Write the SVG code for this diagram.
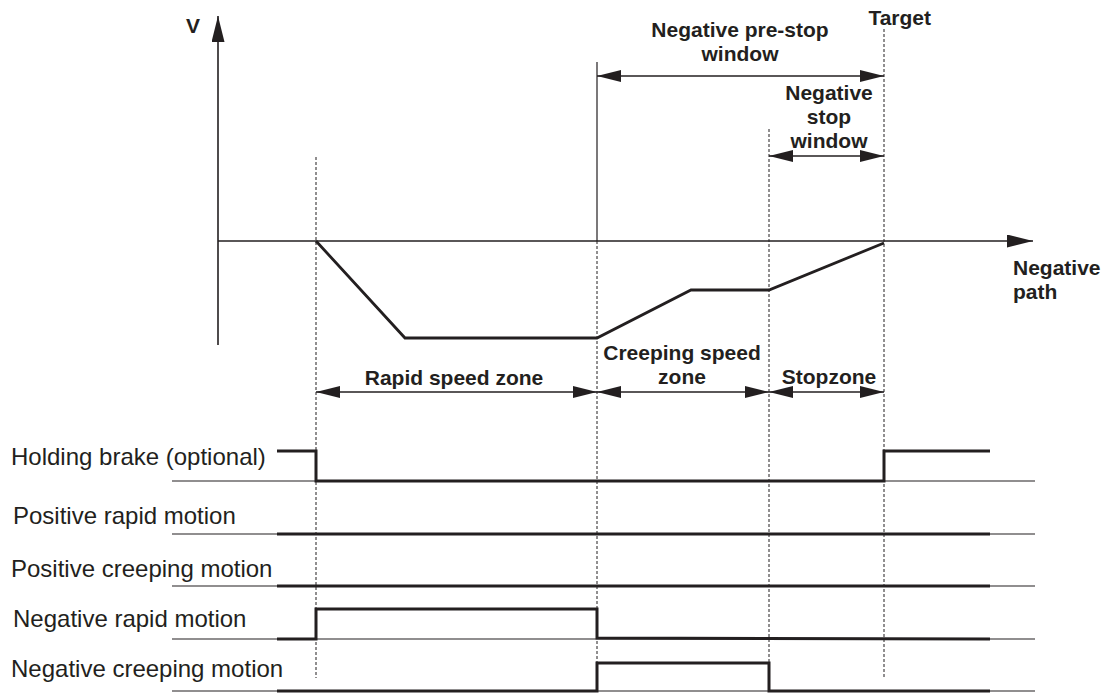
<svg xmlns="http://www.w3.org/2000/svg" width="1115" height="693" viewBox="0 0 1115 693">
<style>
.bold{font-family:"Liberation Sans",Arial,sans-serif;font-weight:bold;font-size:21px;fill:#231f20}
.reg{font-family:"Liberation Sans",Arial,sans-serif;font-size:24px;fill:#231f20}
.axis{stroke:#231f20;stroke-width:1.6;fill:none}
.dash{stroke:#231f20;stroke-width:1;stroke-dasharray:3 2;fill:none}
.dim{stroke:#231f20;stroke-width:1.4;fill:none;marker-start:url(#ah);marker-end:url(#ah)}
.thin{stroke:#231f20;stroke-width:1.2;fill:none}
.sig{stroke:#231f20;stroke-width:3;fill:none;stroke-linejoin:miter}
.curve{stroke:#231f20;stroke-width:2.8;fill:none;stroke-linejoin:miter}
</style>
<defs>
<marker id="ah" viewBox="0 0 24 12" refX="24" refY="6" markerWidth="24" markerHeight="12" markerUnits="userSpaceOnUse" orient="auto-start-reverse">
<path d="M0,0 L24,6 L0,12 z" fill="#231f20"/>
</marker>
<marker id="ax" viewBox="0 0 26 13" refX="26" refY="6.5" markerWidth="26" markerHeight="13" markerUnits="userSpaceOnUse" orient="auto">
<path d="M0,0 L26,6.5 L0,13 z" fill="#231f20"/>
</marker>
</defs>
<rect width="1115" height="693" fill="#fff"/>

<g id="guides">
<line class="dash" x1="316" y1="157" x2="316" y2="678"/>
<line class="axis" x1="597" y1="62" x2="597" y2="241" style="stroke-width:1.2"/>
<line class="dash" x1="597" y1="241" x2="597" y2="678"/>
<line class="dash" x1="769" y1="129" x2="769" y2="678"/>
<line class="dash" x1="884" y1="29" x2="884" y2="678"/>
</g>

<g id="axes">
<line class="axis" x1="218" y1="345" x2="218" y2="16" marker-end="url(#ax)"/>
<line class="axis" x1="218" y1="241" x2="1033" y2="241" marker-end="url(#ax)"/>
<text class="bold" x="186" y="33">V</text>
<text class="bold" x="1013" y="275">Negative</text>
<text class="bold" x="1013" y="299">path</text>
</g>

<g id="speed-curve">
<polyline class="curve" points="316,241 405,338 597,338 691,290 769,290 884,243"/>
</g>

<g id="connectors">
<line class="dim" x1="597" y1="76" x2="884" y2="76"/>
<line class="dim" x1="769" y1="156" x2="884" y2="156"/>
<line class="dim" x1="316" y1="392" x2="597" y2="392"/>
<line class="dim" x1="597" y1="392" x2="769" y2="392"/>
<line class="dim" x1="769" y1="392" x2="884" y2="392"/>
</g>

<g id="window-labels">
<text class="bold" x="931" y="25" text-anchor="end">Target</text>
<text class="bold" x="740" y="37" text-anchor="middle">Negative pre-stop</text>
<text class="bold" x="740" y="61" text-anchor="middle">window</text>
<text class="bold" x="829" y="100" text-anchor="middle">Negative</text>
<text class="bold" x="829" y="124" text-anchor="middle">stop</text>
<text class="bold" x="829" y="148" text-anchor="middle">window</text>
</g>

<g id="zone-labels">
<text class="bold" x="454" y="385" text-anchor="middle">Rapid speed zone</text>
<text class="bold" x="682" y="360" text-anchor="middle">Creeping speed</text>
<text class="bold" x="682" y="384" text-anchor="middle">zone</text>
<text class="bold" x="829" y="384" text-anchor="middle">Stopzone</text>
</g>

<g id="holding-brake">
<text class="reg" x="11" y="465">Holding brake (optional)</text>
<line class="thin" x1="172" y1="481" x2="1035" y2="481"/>
<polyline class="sig" points="277,451 316,451 316,481 884,481 884,451 990,451"/>
</g>

<g id="positive-rapid">
<text class="reg" x="13" y="524">Positive rapid motion</text>
<line class="thin" x1="172" y1="534" x2="1035" y2="534"/>
<line class="sig" x1="277" y1="534" x2="990" y2="534"/>
</g>

<g id="positive-creeping">
<text class="reg" x="11" y="577">Positive creeping motion</text>
<line class="thin" x1="172" y1="586" x2="1035" y2="586"/>
<line class="sig" x1="277" y1="586" x2="990" y2="586"/>
</g>

<g id="negative-rapid">
<text class="reg" x="13" y="627">Negative rapid motion</text>
<line class="thin" x1="172" y1="639" x2="1035" y2="639"/>
<polyline class="sig" points="277,639 316,639 316,609 597,609 597,638 990,639"/>
</g>

<g id="negative-creeping">
<text class="reg" x="11" y="677">Negative creeping motion</text>
<line class="thin" x1="172" y1="691" x2="1035" y2="691"/>
<polyline class="sig" points="277,691 597,691 597,663 769,663 769,691 990,691"/>
</g>
</svg>
